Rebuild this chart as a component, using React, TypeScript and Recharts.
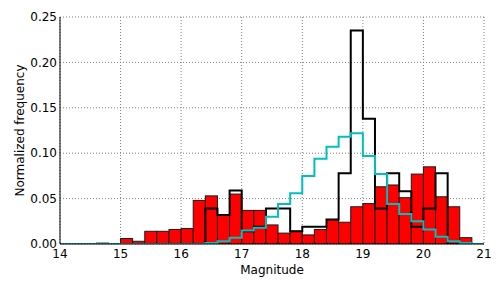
import React from 'react';
import { ComposedChart, Bar, Line, XAxis, YAxis, CartesianGrid } from 'recharts';

// histogram bins, 0.2 mag wide, left edges
const binStarts = [
  14.0, 14.2, 14.4, 14.6, 14.8, 15.0, 15.2, 15.4, 15.6, 15.8, 16.0, 16.2,
  16.4, 16.6, 16.8, 17.0, 17.2, 17.4, 17.6, 17.8, 18.0, 18.2, 18.4, 18.6,
  18.8, 19.0, 19.2, 19.4, 19.6, 19.8, 20.0, 20.2, 20.4, 20.6, 20.8,
];
const binWidth = 0.2;

const redHist = [
  0, 0, 0, 0.001, 0, 0.006, 0.003, 0.014, 0.014, 0.016, 0.017, 0.048,
  0.053, 0.032, 0.055, 0.037, 0.037, 0.021, 0.012, 0.014, 0.010, 0.016, 0.027, 0.024,
  0.041, 0.0445, 0.063, 0.065, 0.051, 0.077, 0.085, 0.052, 0.041, 0.007, 0,
];

const blackHist = [
  0, 0, 0, 0, 0, 0, 0, 0, 0, 0, 0, 0,
  0.039, 0.032, 0.059, 0.014, 0.019, 0.039, 0.039, 0.014, 0.019, 0.019, 0.027, 0.078,
  0.235, 0.138, 0.039, 0.078, 0.058, 0.019, 0.039, 0.078, 0, 0, 0,
];

const cyanHist = [
  0, 0, 0, 0, 0, 0, 0, 0, 0, 0, 0, 0,
  0.001, 0.003, 0.007, 0.015, 0.018, 0.030, 0.044, 0.056, 0.075, 0.094, 0.107, 0.118,
  0.122, 0.097, 0.077, 0.044, 0.033, 0.025, 0.016, 0.008, 0.003, 0.001, 0,
];

const xTicks = [14, 15, 16, 17, 18, 19, 20, 21];
const yTicks = [0, 0.05, 0.1, 0.15, 0.2, 0.25];

const W = 504;
const H = 288;
const margin = { top: 17, right: 20, bottom: 0, left: 0 };
const yAxisWidth = 60;
const xMin = 14;
const xMax = 21;
// pixel width of one bin on the x scale
const binPx = ((W - yAxisWidth - margin.right) / (xMax - xMin)) * binWidth;

// bars sit on bin centers
const barData = binStarts.map((s, i) => ({ x: s + binWidth / 2, red: redHist[i] }));

// step lines run along bin edges
const stepData: any[] = binStarts.map((s, i) => ({ x: s, black: blackHist[i], cyan: cyanHist[i] }));
stepData.push({ x: xMax, black: 0, cyan: 0 });

const tickStyle = { fontSize: 12, fill: '#000', fontFamily: 'DejaVu Sans' };

// widen each bar to the full bin, keeping its center
const HistBar = (p: any) => {
  if (!p.height || p.height <= 0) return null;
  const cx = p.x + p.width / 2;
  return (
    <rect
      x={cx - binPx / 2}
      y={p.y}
      width={binPx}
      height={p.height}
      fill="#ff0000"
      stroke="#1a1a1a"
      strokeWidth={1}
    />
  );
};

export default function App() {
  return (
    <div style={{ position: 'absolute', left: 0, top: 0, width: W, height: H, background: '#fff', fontFamily: 'DejaVu Sans' }}>
      <ComposedChart width={W} height={H} data={barData} margin={margin} barGap={0} barCategoryGap={0}>
        <CartesianGrid stroke="#808080" strokeDasharray="1 2" />
        <XAxis
          dataKey="x"
          type="number"
          domain={[xMin, xMax]}
          ticks={xTicks}
          allowDataOverflow
          height={44}
          tick={tickStyle}
          tickLine={false}
          tickSize={4}
          tickMargin={1}
          axisLine={{ stroke: '#000' }}
          label={{ value: 'Magnitude', position: 'insideBottom', offset: 14, fontSize: 12, fill: '#000' }}
        />
        <XAxis
          xAxisId="top"
          orientation="top"
          dataKey="x"
          type="number"
          domain={[xMin, xMax]}
          ticks={xTicks}
          allowDataOverflow
          height={0}
          mirror
          tick={false}
          tickSize={4}
          tickLine={{ stroke: '#000' }}
          axisLine={{ stroke: '#000' }}
        />
        <YAxis
          type="number"
          domain={[0, 0.25]}
          ticks={yTicks}
          allowDataOverflow
          width={yAxisWidth}
          tick={tickStyle}
          tickLine={false}
          tickSize={2}
          tickMargin={1}
          tickFormatter={(v: number) => v.toFixed(2)}
          axisLine={{ stroke: '#000' }}
          label={{ value: 'Normalized frequency', angle: -90, position: 'center', dx: -10, fontSize: 12, fill: '#000' }}
        />
        <YAxis
          yAxisId="right"
          orientation="right"
          type="number"
          domain={[0, 0.25]}
          ticks={yTicks}
          allowDataOverflow
          width={0}
          mirror
          tick={false}
          tickSize={4}
          tickLine={{ stroke: '#000' }}
          axisLine={{ stroke: '#000' }}
        />
        <Bar dataKey="red" fill="#ff0000" shape={HistBar} isAnimationActive={false} />
        <Line
          data={stepData}
          type="stepAfter"
          dataKey="black"
          stroke="#000"
          strokeWidth={2}
          dot={false}
          isAnimationActive={false}
        />
        <Line
          data={stepData}
          type="stepAfter"
          dataKey="cyan"
          stroke="#00bfbf"
          strokeWidth={2}
          dot={false}
          isAnimationActive={false}
        />
      </ComposedChart>
    </div>
  );
}
